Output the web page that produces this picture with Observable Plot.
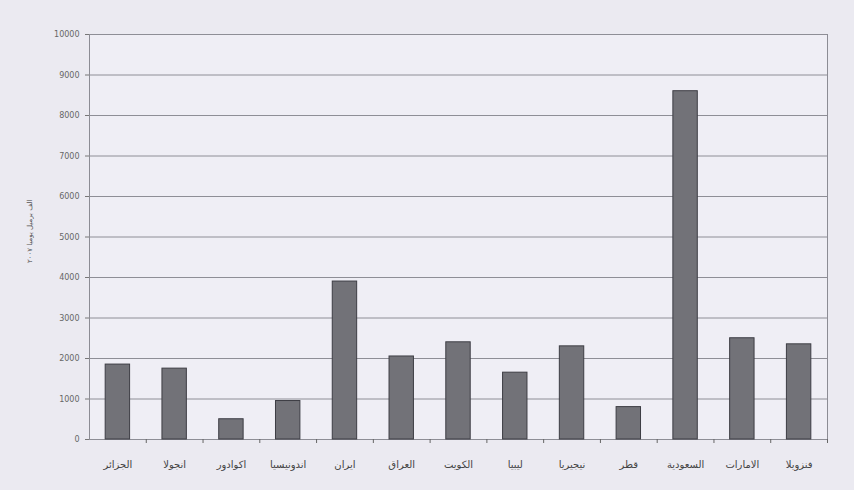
<!DOCTYPE html>
<html>
<head>
<meta charset="utf-8">
<script src="https://cdn.jsdelivr.net/npm/d3@7"></script>
<script src="https://cdn.jsdelivr.net/npm/@observablehq/plot@0.6"></script>
<style>
  html, body { margin: 0; padding: 0; background: #ebeaf1; }
  #chart svg { display: block; }
</style>
</head>
<body>
<div id="chart"></div>
<script>
// OPEC members, production capacity (thousand barrels per day, 2007)
const countries = ["الجزائر", "انجولا", "اكوادور", "اندونيسيا", "ايران", "العراق", "الكويت", "ليبيا", "نيجيريا", "قطر", "السعودية", "الامارات", "فنزويلا"];
const capacity = [1850, 1750, 500, 950, 3900, 2050, 2400, 1650, 2300, 800, 8600, 2500, 2350];
const yTicks = [0, 1000, 2000, 3000, 4000, 5000, 6000, 7000, 8000, 9000, 10000];
const yTitle = "الف برميل يوميا ٢٠٠٧";

const rows = countries.map((c, i) => ({country: c, value: capacity[i]}));

const W = 854, H = 490;
const mL = 89, mR = 27, mT = 34, mB = 51;
const step = (W - mL - mR) / countries.length;

const chart = Plot.plot({
  width: W,
  height: H,
  marginLeft: mL,
  marginRight: mR,
  marginTop: mT,
  marginBottom: mB,
  style: {background: "#ebeaf1", fontFamily: "DejaVu Sans, sans-serif", color: "#555"},
  x: {domain: countries, paddingInner: 0.57, paddingOuter: 0.285, align: 0.5, round: false},
  y: {domain: [0, 10000], ticks: yTicks},
  marks: [
    Plot.frame({stroke: "#8c8c94", fill: "#efeef5"}),
    Plot.gridY(yTicks, {stroke: "#8e8e96", strokeOpacity: 1, strokeWidth: 1}),
    Plot.barY(rows, {x: "country", y: "value", fill: "#727278", stroke: "#3d3d44", strokeWidth: 1}),
    Plot.axisY(yTicks, {
      tickSize: 4, tickPadding: 6, fontSize: 8, stroke: "#777", fill: "#666",
      tickFormat: d => String(d), label: null
    }),
    Plot.axisX({tickSize: 0, tickPadding: 21, fontSize: 10, fill: "#444", label: null}),
    Plot.axisX({tickSize: 4, dx: step / 2, tickFormat: () => "", stroke: "#666", label: null}),
    Plot.text([yTitle], {
      frameAnchor: "left", dx: -60, dy: 26, rotate: -90, fontSize: 7, fill: "#555"
    })
  ]
});

document.getElementById("chart").appendChild(chart);
</script>
</body>
</html>
